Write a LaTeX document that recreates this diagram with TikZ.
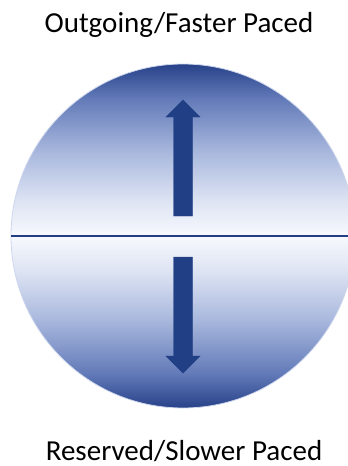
\documentclass[tikz,border=0pt]{standalone}
\usepackage{fontspec}
\setmainfont{Carlito}
\definecolor{navy}{RGB}{33,63,132}
\definecolor{dk}{RGB}{40,66,138}
\definecolor{m1}{RGB}{98,122,184}
\definecolor{m2}{RGB}{170,185,222}
\definecolor{m3}{RGB}{222,228,243}
\definecolor{wh}{RGB}{247,249,253}
\definecolor{rim}{RGB}{205,214,236}
\pgfdeclareverticalshading{ball}{100bp}{color(0bp)=(dk); color(25bp)=(dk); color(30bp)=(m1); color(38bp)=(m2); color(45bp)=(m3); color(50bp)=(wh); color(55bp)=(m3); color(62bp)=(m2); color(70bp)=(m1); color(75bp)=(dk); color(100bp)=(dk)}
\tikzset{
  label text/.style={font=\fontsize{29}{34}\selectfont, text=black, anchor=base, inner sep=0pt},
  arrowshape/.style={fill=navy, draw=navy, line width=0.4pt},
}
\begin{document}
\begin{tikzpicture}[x=1pt,y=-1pt]
\useasboundingbox (0,0) rectangle (348,466);
\clip (0,0) rectangle (348,466);
\node[circle, minimum size=344pt, inner sep=0pt, shading=ball, draw=rim, line width=0.8pt] (ball) at (183,236) {};
\draw[navy, line width=2pt] (ball.west) -- (ball.east);
% up arrow
\fill[arrowshape] (183,100) -- (200,117) -- (192.5,117) -- (192.5,216) -- (173.5,216) -- (173.5,117) -- (166,117) -- cycle;
% down arrow
\fill[arrowshape] (183,373) -- (200,356) -- (192.5,356) -- (192.5,257) -- (173.5,257) -- (173.5,356) -- (166,356) -- cycle;
\node[label text] (top) at (179,32) {Outgoing/Faster Paced};
\node[label text] (bottom) at (184,460) {Reserved/Slower Paced};
\end{tikzpicture}
\end{document}
